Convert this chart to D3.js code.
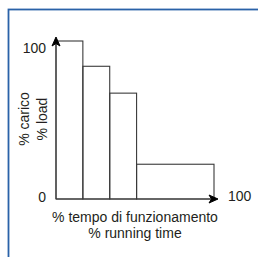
<!DOCTYPE html>
<html>
<head>
<meta charset="utf-8">
<script src="https://cdnjs.cloudflare.com/ajax/libs/d3/7.8.5/d3.min.js"></script>
<style>
body { margin: 0; background: #fff; }
text { font-family: "Liberation Sans Narrow", "Arial Narrow", "Liberation Sans", Arial, sans-serif; fill: #231f20; }
.arrow { fill: #000; stroke: #000; stroke-width: 1; }
</style>
</head>
<body>
<svg id="chart" width="258" height="257"></svg>
<script>
// duty cycle steps: time share (%) and load (%)
var stepStart = [0, 17, 34, 51];
var stepEnd   = [17, 34, 51, 100];
var loadPct   = [100, 84, 67, 22];
var yLabels   = ["% carico", "% load"];
var xLabels   = ["% tempo di funzionamento", "% running time"];
var tickLabels = ["0", "100"];

var svg = d3.select("#chart");

// blue frame, cropped at right and bottom
svg.append("rect")
  .attr("x", 8.5).attr("y", 9.5)
  .attr("width", 270).attr("height", 270)
  .attr("fill", "none")
  .attr("stroke", "#2a62a8")
  .attr("stroke-width", 1.8);

var x = d3.scaleLinear().domain([0, 100]).range([56, 214]);
var y = d3.scaleLinear().domain([0, 100]).range([199, 41]);

var g = svg.append("g");

g.selectAll(".bar")
  .data(loadPct)
  .enter().append("rect")
    .attr("class", "bar")
    .attr("x", (d, i) => x(stepStart[i]))
    .attr("y", d => y(d))
    .attr("width", (d, i) => x(stepEnd[i]) - x(stepStart[i]))
    .attr("height", d => y(0) - y(d))
    .attr("fill", "none")
    .attr("stroke", "#3a3a3a")
    .attr("stroke-width", 1.1);

// axes with arrows
g.append("line")
  .attr("x1", x(0)).attr("y1", y(0))
  .attr("x2", x(0)).attr("y2", y(100) - 1)
  .attr("stroke", "#3a3a3a").attr("stroke-width", 1.1);
g.append("line")
  .attr("x1", x(0)).attr("y1", y(0))
  .attr("x2", x(100) + 1).attr("y2", y(0))
  .attr("stroke", "#3a3a3a").attr("stroke-width", 1.1);

var tx = x(0), ty = y(100) - 4;
svg.append("path")
  .attr("class", "arrow")
  .attr("d", "M" + tx + "," + ty + "L" + (tx - 4) + "," + (ty + 9) +
             "L" + tx + "," + (ty + 6.5) + "L" + (tx + 4) + "," + (ty + 9) + "Z");
var rx = x(100) + 4, ry = y(0);
svg.append("path")
  .attr("class", "arrow")
  .attr("d", "M" + rx + "," + ry + "L" + (rx - 9) + "," + (ry - 4) +
             "L" + (rx - 6.5) + "," + ry + "L" + (rx - 9) + "," + (ry + 4) + "Z");

// tick labels
g.append("text")
  .attr("x", x(0) - 10).attr("y", y(100) + 12)
  .attr("text-anchor", "end")
  .attr("font-size", 14)
  .text(tickLabels[1]);
g.append("text")
  .attr("x", x(0) - 10).attr("y", y(0) + 3)
  .attr("text-anchor", "end")
  .attr("font-size", 14)
  .text(tickLabels[0]);
g.append("text")
  .attr("x", x(100) + 14).attr("y", y(0) + 2)
  .attr("font-size", 14)
  .text(tickLabels[1]);

// axis titles
g.selectAll(".ylab")
  .data(yLabels)
  .enter().append("text")
    .attr("class", "ylab")
    .attr("transform", (d, i) => `translate(${29 + i * 18}, 119) rotate(-90)`)
    .attr("text-anchor", "middle")
    .attr("font-size", 14)
    .text(d => d);

g.selectAll(".xlab")
  .data(xLabels)
  .enter().append("text")
    .attr("class", "xlab")
    .attr("x", 135)
    .attr("y", (d, i) => 222 + i * 16)
    .attr("text-anchor", "middle")
    .attr("font-size", 14)
    .text(d => d);
</script>
</body>
</html>
